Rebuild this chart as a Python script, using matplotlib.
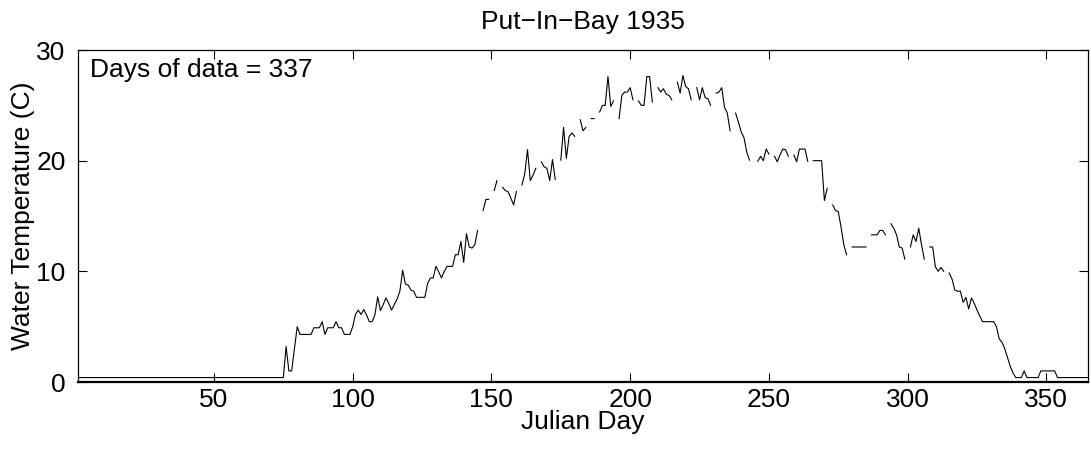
import matplotlib.pyplot as plt
import numpy as np

plt.rcParams['font.family'] = ['Liberation Sans', 'DejaVu Sans']

# Julian day and daily water temperature (C), Put-In-Bay 1935; nan = no reading
day = np.arange(1, 366)
nan = np.nan
temp = [
    0.4, 0.4, 0.4, 0.4, 0.4, 0.4, 0.4, 0.4, 0.4, 0.4,
    0.4, 0.4, 0.4, 0.4, 0.4, 0.4, 0.4, 0.4, 0.4, 0.4,
    0.4, 0.4, 0.4, 0.4, 0.4, 0.4, 0.4, 0.4, 0.4, 0.4,
    0.4, 0.4, 0.4, 0.4, 0.4, 0.4, 0.4, 0.4, 0.4, 0.4,
    0.4, 0.4, 0.4, 0.4, 0.4, 0.4, 0.4, 0.4, 0.4, 0.4,
    0.4, 0.4, 0.4, 0.4, 0.4, 0.4, 0.4, 0.4, 0.4, 0.4,
    0.4, 0.4, 0.4, 0.4, 0.4, 0.4, 0.4, 0.4, 0.4, 0.4,
    0.4, 0.4, 0.4, 0.4, 0.4, 3.2, 1.0, 1.0, 3.0, 5.0,          # 71-80
    4.3, 4.3, 4.3, 4.3, 4.3, 4.9, 4.9, 4.9, 5.45, 4.3,         # 81-90
    4.9, 4.9, 4.9, 5.45, 4.9, 4.9, 4.3, 4.3, 4.3, 5.0,         # 91-100
    6.1, 6.5, 6.1, 6.55, 6.05, 5.45, 5.45, 6.05, 7.7, 6.45,    # 101-110
    7.0, 7.6, 7.1, 6.5, 7.0, 7.5, 8.2, 10.1, 8.85, 8.75,       # 111-120
    8.3, 8.2, 7.65, 7.65, 7.65, 7.65, 8.9, 9.4, 9.4, 10.45,    # 121-130
    9.95, 9.4, 10.0, 10.45, 10.45, 10.45, 11.5, 11.5, 12.7, 10.8,  # 131-140
    13.4, 12.2, 12.1, 12.4, 13.7, nan, 15.5, 16.5, 16.5, nan,  # 141-150
    17.3, 18.2, nan, 17.6, 17.3, 17.2, 16.6, 16.0, 17.2, nan,  # 151-160
    17.8, 18.8, 21.0, 18.2, 18.7, 19.3, nan, 19.9, 19.45, 19.3,  # 161-170
    18.2, 20.1, 18.3, nan, 20.05, 23.0, 20.2, 22.2, 22.5, 22.2,  # 171-180
    nan, 23.7, 22.7, 23.0, nan, 23.8, 23.8, nan, 24.4, 25.0,   # 181-190
    25.0, 27.6, 24.9, 25.4, nan, 23.8, 25.9, 26.2, 26.2, 26.6,  # 191-200
    25.5, nan, 25.4, 25.0, 25.0, 27.6, 27.6, 25.3, nan, 26.6,  # 201-210
    26.2, 26.5, 26.0, 25.9, 25.5, nan, 27.1, 26.1, 27.7, 26.7,  # 211-220
    26.5, 25.5, nan, 26.6, 25.5, 26.6, 25.7, 25.6, 25.0, nan,  # 221-230
    26.1, 26.2, 26.6, 24.8, 24.3, 22.7, nan, 24.3, 23.5, 22.6,  # 231-240
    22.1, 20.8, 20.05, nan, nan, 19.95, 20.4, 20.0, 21.05, 20.6,  # 241-250
    nan, 20.4, 19.9, 20.5, 21.05, 21.0, 20.4, nan, 20.5, 19.9,  # 251-260
    21.05, 21.05, 21.05, 19.95, nan, 20.0, 20.0, 20.0, 20.0, 16.4,  # 261-270
    17.5, nan, 16.0, 15.5, 15.4, 14.0, 12.4, 11.5, nan, 12.2,  # 271-280
    12.2, 12.2, 12.2, 12.2, 12.2, nan, 13.3, 13.3, 13.3, 13.7,  # 281-290
    13.7, 13.3, nan, 14.3, 13.9, 13.3, 12.2, 12.1, 11.1, nan,  # 291-300
    12.2, 13.3, 12.7, 13.9, 12.4, 11.1, nan, 12.2, 12.2, 10.4,  # 301-310
    10.0, 10.35, 10.0, nan, 9.85, 9.3, 8.3, 8.2, 8.2, 7.2,     # 311-320
    7.65, 6.6, 7.6, 7.1, 6.5, 5.95, 5.45, 5.45, 5.45, 5.45,    # 321-330
    5.45, 5.0, 3.9, 3.6, 3.0, 2.2, 1.4, 0.8, 0.4, 0.4,         # 331-340
    0.4, 1.0, 0.4, 0.4, 0.4, 0.4, 0.4, 1.0, 1.0, 1.0,          # 341-350
    1.0, 1.0, 1.0, 0.4, 0.4, 0.4, 0.4, 0.4, 0.4, 0.4,          # 351-360
    0.4, 0.4, 0.4, 0.4, 0.4,                                   # 361-365
]
x_ticks = [50, 100, 150, 200, 250, 300, 350]
y_ticks = [0, 10, 20, 30]

fig = plt.figure(figsize=(10.91, 4.55), dpi=100)
ax = fig.add_axes([78 / 1091, 73 / 455, 1010 / 1091, 332 / 455])

ax.plot(day, temp, color='black', linewidth=0.8)

ax.set_xlim(1, 365)
ax.set_ylim(0, 30)
ax.set_xticks(x_ticks)
ax.set_yticks(y_ticks)
ax.tick_params(direction='in', length=6.5, width=0.8, top=True, right=True,
               labelsize=19, pad=4)
ax.tick_params(axis='y', pad=9)
for side in ['left', 'right', 'top']:
    ax.spines[side].set_linewidth(0.9)
ax.spines['bottom'].set_linewidth(1.6)

ax.set_title('Put\u2212In\u2212Bay 1935', fontsize=19, pad=15)
ax.set_xlabel('Julian Day', fontsize=19)
ax.set_ylabel('Water Temperature (C)', fontsize=19)
ax.xaxis.set_label_coords(0.5, -0.085)
ax.yaxis.set_label_coords(-0.043, 0.5)

ax.text(0.012, 0.92, 'Days of data = 337', transform=ax.transAxes,
        fontsize=19, va='baseline', ha='left')

fig.savefig('out.png', dpi=100)
